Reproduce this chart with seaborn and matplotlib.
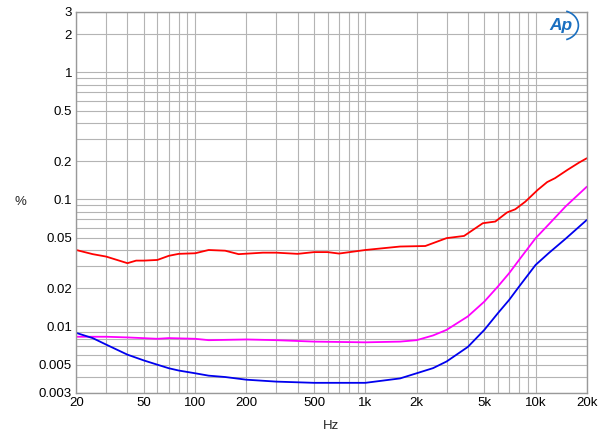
import numpy as np
import pandas as pd
import matplotlib
matplotlib.use("Agg")
import matplotlib.pyplot as plt
import matplotlib.ticker as ticker
from matplotlib.patches import Arc
import seaborn as sns

# ---------------------------------------------------------------------------
# Data (frequency in Hz, THD+N in %)
# ---------------------------------------------------------------------------
red_hz = [20, 25, 30, 40, 45, 50, 60, 70, 80, 100, 120, 150, 180, 250, 300, 400,
          500, 600, 700, 1000, 1600, 2250, 3000, 3800, 4900, 5800, 6800, 7600,
          8700, 10300, 11700, 13000, 15400, 18000, 20000]
red_pct = [0.040, 0.0371, 0.0355, 0.0315, 0.033, 0.033, 0.0334, 0.036, 0.0373,
           0.0377, 0.040, 0.0395, 0.0371, 0.0381, 0.0381, 0.0373, 0.0385, 0.0385,
           0.0375, 0.040, 0.0426, 0.043, 0.0496, 0.0516, 0.065, 0.067, 0.079,
           0.0837, 0.096, 0.119, 0.137, 0.147, 0.171, 0.195, 0.211]

mag_hz = [20, 30, 40, 60, 70, 100, 120, 200, 300, 500, 1000, 1600, 2000, 2500,
          3000, 4000, 5000, 6000, 7000, 8000, 10000, 12000, 15000, 20000]
mag_pct = [0.0083, 0.0083, 0.0082, 0.0080, 0.0081, 0.0080, 0.0078, 0.0079,
           0.0078, 0.0076, 0.0075, 0.0076, 0.0078, 0.0085, 0.0094, 0.0120,
           0.0157, 0.0206, 0.0263, 0.0334, 0.0495, 0.064, 0.088, 0.126]

blue_hz = [20, 25, 30, 40, 50, 60, 70, 80, 100, 120, 150, 200, 300, 500, 1000,
           1600, 2000, 2500, 3000, 4000, 5000, 6000, 7000, 8000, 10000, 12000,
           15000, 20000]
blue_pct = [0.0089, 0.0081, 0.0072, 0.0060, 0.0054, 0.0050, 0.00469, 0.0045,
            0.00428, 0.0041, 0.0040, 0.00381, 0.00368, 0.0036, 0.0036, 0.0039,
            0.00428, 0.0047, 0.0053, 0.0069, 0.0094, 0.0127, 0.0162, 0.0206,
            0.0305, 0.038, 0.049, 0.069]

y_ticks = [0.003, 0.005, 0.01, 0.02, 0.05, 0.1, 0.2, 0.5, 1, 2, 3]
y_labels = ["0.003", "0.005", "0.01", "0.02", "0.05", "0.1", "0.2", "0.5", "1", "2", "3"]
x_ticks = [20, 50, 100, 200, 500, 1000, 2000, 5000, 10000, 20000]
x_labels = ["20", "50", "100", "200", "500", "1k", "2k", "5k", "10k", "20k"]

df = pd.concat([
    pd.DataFrame({"Hz": red_hz, "pct": red_pct, "trace": "red"}),
    pd.DataFrame({"Hz": mag_hz, "pct": mag_pct, "trace": "magenta"}),
    pd.DataFrame({"Hz": blue_hz, "pct": blue_pct, "trace": "blue"}),
])
palette = {"red": "#ff0000", "magenta": "#ff00ff", "blue": "#0000ee"}

# ---------------------------------------------------------------------------
# Figure
# ---------------------------------------------------------------------------
sns.set_style("white")
plt.rcParams["font.family"] = ["Liberation Sans", "DejaVu Sans"]

fig = plt.figure(figsize=(6, 4.38), dpi=100)
ax = fig.add_axes([0.127, 0.103, 0.851, 0.870])

sns.lineplot(data=df, x="Hz", y="pct", hue="trace", palette=palette,
             linewidth=1.3, ax=ax, legend=False, sort=False, estimator=None)

ax.set_xscale("log")
ax.set_yscale("log")
ax.set_xlim(20, 20000)
ax.set_ylim(0.003, 3)

# full minor grid, like the AP plots
ax.xaxis.set_minor_locator(ticker.LogLocator(base=10, subs=np.arange(1, 10)))
ax.yaxis.set_minor_locator(ticker.LogLocator(base=10, subs=np.arange(1, 10)))
ax.grid(True, which="both", color="#b4b4b4", linewidth=0.8)
ax.set_axisbelow(True)

ax.set_xticks(x_ticks)
ax.set_xticklabels(x_labels)
ax.set_yticks(y_ticks)
ax.set_yticklabels(y_labels)
ax.xaxis.set_minor_formatter(ticker.NullFormatter())
ax.yaxis.set_minor_formatter(ticker.NullFormatter())
ax.tick_params(which="both", length=0, labelsize=9.5, colors="black", pad=3)

for s in ax.spines.values():
    s.set_color("#999999")
    s.set_linewidth(1)

ax.set_xlabel("Hz", fontsize=9.5, labelpad=8)
ax.set_ylabel("%", fontsize=9.5, rotation=0, va="center", ha="center")
ax.yaxis.set_label_coords(-0.11, 0.5)

# Ap logo in the top right corner (text plus a swoosh)
fig.text(0.935, 0.942, "Ap", color="#1a6fc0", fontsize=12.5, fontstyle="italic",
         fontweight="bold", ha="center", va="center")
fig.add_artist(Arc((0.935, 0.942), 0.058, 0.068, theta1=-75, theta2=75,
                   transform=fig.transFigure, color="#1a6fc0", linewidth=1.2))

fig.savefig("out.png", dpi=100)
